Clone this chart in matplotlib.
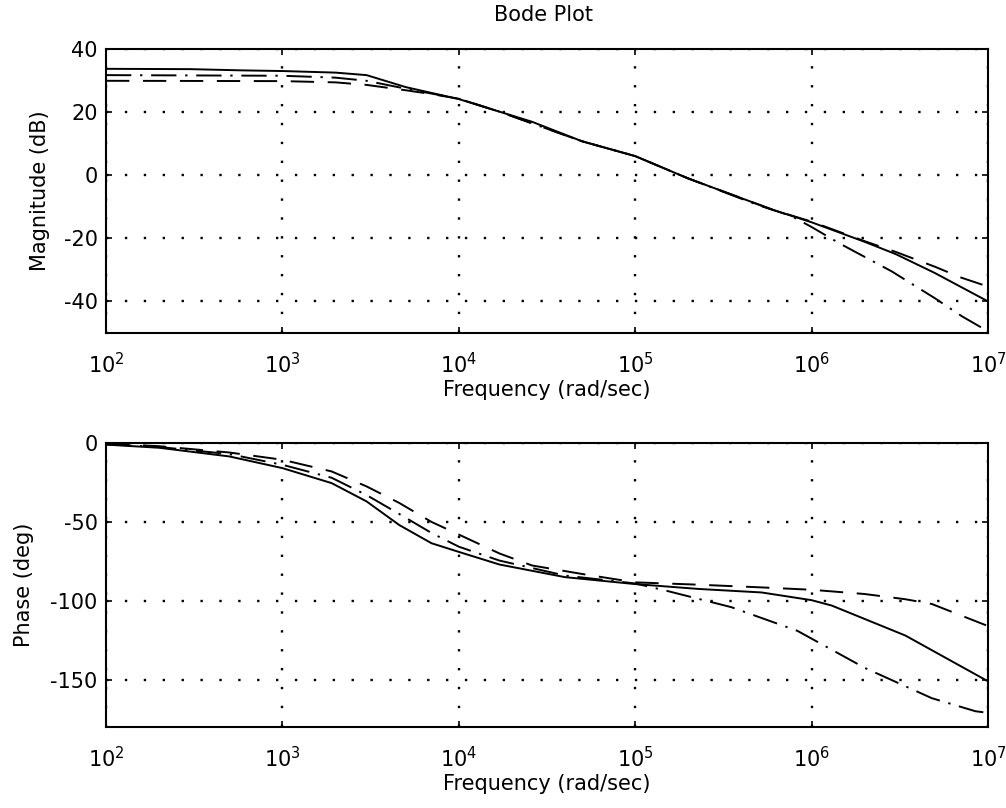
import matplotlib
matplotlib.use('Agg')
import matplotlib.pyplot as plt
from matplotlib.ticker import LogLocator, NullLocator, LogFormatterMathtext

plt.rcParams['font.family'] = ['DejaVu Sans']
plt.rcParams['mathtext.fontset'] = 'dejavusans'
plt.rcParams['mathtext.default'] = 'regular'
plt.rcParams['axes.unicode_minus'] = False

# magnitude (dB) of the three responses
w_mag_solid = [1e2, 3e2, 6e2, 1e3, 2e3, 3e3, 5e3, 1e4, 1.7e4, 2.6e4, 5e4, 1e5,
               2e5, 6e5, 1e6, 2e6, 3e6, 5e6, 1e7]
mag_solid = [33.8, 33.7, 33.3, 33.1, 32.6, 31.8, 28.0, 24.2, 20.2, 17.0, 10.8, 6.1,
             -1.0, -10.9, -14.9, -21.1, -25.0, -31.0, -40.0]

w_mag_dash = [1e2, 1e3, 2e3, 3e3, 5e3, 7e3, 1e4, 1.7e4, 5e4, 1e5, 2e5, 6e5,
              1e6, 2e6, 3e6, 5e6, 7e6, 1e7]
mag_dash = [30.0, 29.9, 29.5, 28.7, 27.0, 25.8, 24.3, 20.2, 10.8, 6.1, -1.0, -10.9,
            -14.7, -20.9, -24.3, -29.0, -32.4, -35.3]

w_mag_dashdot = [1e2, 1e3, 2e3, 3e3, 5e3, 1e4, 1.7e4, 5e4, 1e5, 2e5, 5e5, 7.6e5,
                 1e6, 1.45e6, 2.85e6, 5e6, 7.1e6, 1e7]
mag_dashdot = [31.8, 31.6, 31.0, 30.0, 27.5, 24.3, 20.2, 10.8, 6.1, -1.0, -9.5, -12.8,
               -16.4, -21.7, -30.5, -39.0, -44.7, -49.5]

# phase (deg)
w_ph_solid = [1e2, 2e2, 5e2, 1e3, 1.9e3, 3e3, 4.6e3, 7e3, 1e4, 1.7e4, 4e4, 1e5,
              2.3e5, 5.2e5, 1e6, 1.3e6, 3.4e6, 1e7]
ph_solid = [-1.0, -3.0, -8.5, -15.9, -25.4, -37.0, -52.0, -63.5, -69.0, -77.0, -85.0, -89.4,
            -92.5, -94.7, -99.6, -103.0, -122.0, -151.0]

w_ph_dash = [1e2, 2e2, 5e2, 1e3, 1.9e3, 3e3, 4.6e3, 7e3, 1e4, 1.7e4, 2.6e4, 5e4,
             1e5, 2.3e5, 5.2e5, 1e6, 2e6, 3.4e6, 4.8e6, 1e7]
ph_dash = [-0.5, -2.0, -6.0, -10.6, -18.0, -27.5, -38.0, -50.0, -58.0, -70.0, -77.6, -83.0,
           -88.3, -89.8, -91.5, -93.0, -95.7, -99.0, -102.0, -116.0]

w_ph_dashdot = [1e2, 2e2, 5e2, 1e3, 1.9e3, 3e3, 4.6e3, 7e3, 1e4, 1.7e4, 4e4, 1e5,
                1.5e5, 3.5e5, 8.3e5, 2e6, 4.8e6, 8.5e6, 1e7]
ph_dashdot = [-0.8, -2.5, -7.0, -13.8, -22.0, -33.0, -45.0, -57.0, -65.7, -74.5, -84.0, -89.0,
              -93.6, -104.0, -119.0, -142.5, -161.7, -170.0, -171.0]

styles = {
    'solid': dict(color='black', lw=1.4, linestyle='-'),
    'dash': dict(color='black', lw=1.4, linestyle=(0, (12, 7))),
    'dashdot': dict(color='black', lw=1.4, linestyle=(0, (13, 4.5, 1.2, 4.5))),
}

FS = 15


def style_axes(ax, ylim, yticks):
    ax.set_xscale('log')
    ax.set_xlim(1e2, 1e7)
    ax.set_ylim(*ylim)
    ax.set_yticks(yticks)
    ax.xaxis.set_major_locator(LogLocator(base=10, numticks=10))
    ax.xaxis.set_major_formatter(LogFormatterMathtext())
    ax.xaxis.set_minor_locator(NullLocator())
    ax.grid(True, color='black', lw=1.7, linestyle=(0, (1, 7)))
    ax.tick_params(direction='in', length=4, width=1.2, top=True, right=True,
                   labelsize=FS, colors='black')
    ax.tick_params(axis='x', pad=14)
    ax.tick_params(axis='y', pad=6)
    for s in ax.spines.values():
        s.set_linewidth(1.5)
    ax.set_xlabel('Frequency (rad/sec)', fontsize=FS, labelpad=1.5)


fig = plt.figure(figsize=(10.06, 8.08), dpi=100)
ax1 = fig.add_axes([0.1054, 0.588, 0.8767, 0.351])
ax2 = fig.add_axes([0.1054, 0.1002, 0.8767, 0.3515])

ax1.plot(w_mag_solid, mag_solid, **styles['solid'])
ax1.plot(w_mag_dash, mag_dash, **styles['dash'])
ax1.plot(w_mag_dashdot, mag_dashdot, **styles['dashdot'])
style_axes(ax1, (-50, 40), [-40, -20, 0, 20, 40])
ax1.set_ylabel('Magnitude (dB)', fontsize=FS, labelpad=10)

ax2.plot(w_ph_solid, ph_solid, **styles['solid'])
ax2.plot(w_ph_dash, ph_dash, **styles['dash'])
ax2.plot(w_ph_dashdot, ph_dashdot, **styles['dashdot'])
style_axes(ax2, (-180, 0), [-150, -100, -50, 0])
ax2.set_ylabel('Phase (deg)', fontsize=FS, labelpad=12)

fig.text(0.54, 1 - 15 / 808, 'Bode Plot', ha='center', va='center', fontsize=FS)

fig.savefig('out.png', dpi=100)
